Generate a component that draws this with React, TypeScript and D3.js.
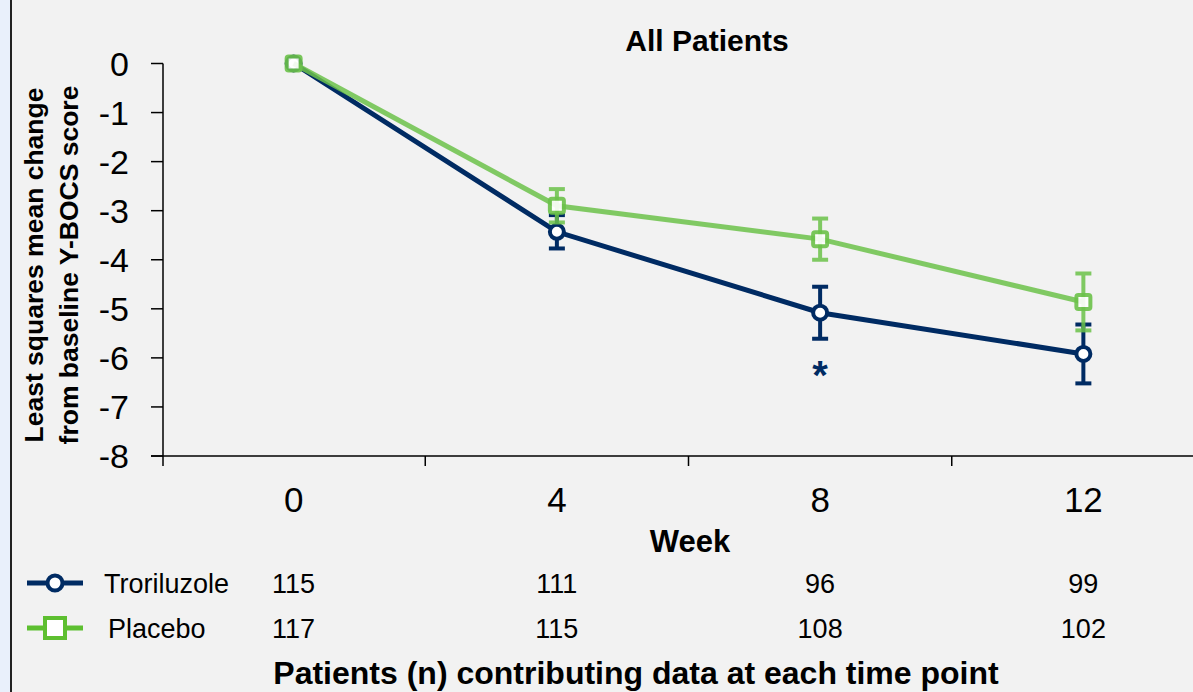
import React, { useEffect, useRef } from 'react';
import * as d3 from 'd3';

const WEEKS = ['0', '4', '8', '12'];
const TRORILUZOLE = [0, -3.43, -5.08, -5.92];
const TRORILUZOLE_ERR = [0, 0.34, 0.53, 0.6];
const PLACEBO = [0, -2.9, -3.58, -4.86];
const PLACEBO_ERR = [0, 0.34, 0.42, 0.58];
const N_TRORILUZOLE = ['115', '111', '96', '99'];
const N_PLACEBO = ['117', '115', '108', '102'];
const Y_TICKS = [0, -1, -2, -3, -4, -5, -6, -7, -8];

const NAVY = '#002b63';
const GREEN = '#6cc24a';
const FONT = 'Liberation Sans, Arial, sans-serif';

export default function App() {
  const ref = useRef<SVGSVGElement>(null);

  useEffect(() => {
    const svg = d3.select(ref.current);
    svg.selectAll('*').remove();

    const W = 1193, H = 692;
    svg.append('rect').attr('width', W).attr('height', H).attr('fill', '#f2f2f2');
    svg.append('rect').attr('width', 10).attr('height', H).attr('fill', '#e9f0fb');
    svg.append('line').attr('x1', 11).attr('x2', 11).attr('y1', 0).attr('y2', H)
      .attr('stroke', '#222').attr('stroke-width', 2);

    const x = d3.scaleBand().domain(WEEKS).range([162, 1215]);
    const y = d3.scaleLinear().domain([0, -8]).range([63.5, 456]);
    const cx = (w: string) => x(w)! + x.bandwidth() / 2;

    // y axis
    const ya = svg.append('g');
    ya.append('line').attr('x1', 163).attr('x2', 163).attr('y1', y(0)).attr('y2', 466)
      .attr('stroke', '#000').attr('stroke-width', 1.5);
    Y_TICKS.forEach(t => {
      ya.append('line').attr('x1', 151).attr('x2', 163).attr('y1', y(t)).attr('y2', y(t))
        .attr('stroke', '#000').attr('stroke-width', 1.5);
      ya.append('text').attr('x', 129).attr('y', y(t)).attr('dy', '0.36em')
        .attr('text-anchor', 'end').attr('font-family', FONT).attr('font-size', 34)
        .attr('fill', '#000').text(t);
    });

    // x axis
    svg.append('line').attr('x1', 151).attr('x2', W).attr('y1', 456).attr('y2', 456)
      .attr('stroke', '#000').attr('stroke-width', 1.5);
    WEEKS.forEach((w, i) => {
      if (i > 0) {
        svg.append('line').attr('x1', x(w)!).attr('x2', x(w)!).attr('y1', 456).attr('y2', 466)
          .attr('stroke', '#000').attr('stroke-width', 1.5);
      }
      svg.append('text').attr('x', cx(w)).attr('y', 512).attr('text-anchor', 'middle')
        .attr('font-family', FONT).attr('font-size', 35).attr('fill', '#000').text(w);
    });

    svg.append('text').attr('x', 690).attr('y', 552).attr('text-anchor', 'middle')
      .attr('font-family', FONT).attr('font-size', 31).attr('font-weight', 'bold').text('Week');

    svg.append('text').attr('x', 707).attr('y', 51).attr('text-anchor', 'middle')
      .attr('font-family', FONT).attr('font-size', 30).attr('font-weight', 'bold').text('All Patients');

    const yt = svg.append('text').attr('transform', 'translate(0,265) rotate(-90)')
      .attr('text-anchor', 'middle').attr('font-family', FONT).attr('font-size', 26.5)
      .attr('font-weight', 'bold').attr('fill', '#000');
    yt.append('tspan').attr('x', 0).attr('y', 43).text('Least squares mean change');
    yt.append('tspan').attr('x', 0).attr('y', 78).text('from baseline Y-BOCS score');

    const line = d3.line<number>().x((_, i) => cx(WEEKS[i])).y(d => y(d));

    const drawErr = (vals: number[], errs: number[], color: string, opacity: number) => {
      vals.forEach((v, i) => {
        if (!errs[i]) return;
        const px = cx(WEEKS[i]);
        const g = svg.append('g').attr('stroke', color).attr('stroke-width', 4).attr('opacity', opacity);
        g.append('line').attr('x1', px).attr('x2', px).attr('y1', y(v - errs[i])).attr('y2', y(v + errs[i]));
        [v - errs[i], v + errs[i]].forEach(e => {
          g.append('line').attr('x1', px - 8).attr('x2', px + 8).attr('y1', y(e)).attr('y2', y(e));
        });
      });
    };

    // troriluzole
    drawErr(TRORILUZOLE, TRORILUZOLE_ERR, NAVY, 1);
    svg.append('path').datum(TRORILUZOLE).attr('d', line).attr('fill', 'none')
      .attr('stroke', NAVY).attr('stroke-width', 5);
    TRORILUZOLE.forEach((v, i) => {
      svg.append('circle').attr('cx', cx(WEEKS[i])).attr('cy', y(v)).attr('r', 7)
        .attr('fill', '#fff').attr('stroke', NAVY).attr('stroke-width', 4);
    });

    // placebo
    drawErr(PLACEBO, PLACEBO_ERR, GREEN, 0.85);
    svg.append('path').datum(PLACEBO).attr('d', line).attr('fill', 'none')
      .attr('stroke', GREEN).attr('stroke-width', 5).attr('opacity', 0.85);
    PLACEBO.forEach((v, i) => {
      svg.append('rect').attr('x', cx(WEEKS[i]) - 7).attr('y', y(v) - 7)
        .attr('width', 14).attr('height', 14).attr('rx', 2)
        .attr('fill', '#fff').attr('stroke', GREEN).attr('stroke-width', 4).attr('opacity', 0.9);
    });

    svg.append('text').attr('x', cx('8')).attr('y', 389).attr('text-anchor', 'middle')
      .attr('font-family', FONT).attr('font-size', 40).attr('font-weight', 'bold')
      .attr('fill', NAVY).text('*');

    // legend + n table
    const rows = [
      { name: 'Troriluzole', color: NAVY, ns: N_TRORILUZOLE, y: 583, tx: 104, shape: 'circle' },
      { name: 'Placebo', color: '#5dbf30', ns: N_PLACEBO, y: 628, tx: 108, shape: 'square' },
    ];
    rows.forEach(r => {
      svg.append('line').attr('x1', 27).attr('x2', 83).attr('y1', r.y).attr('y2', r.y)
        .attr('stroke', r.color).attr('stroke-width', 5);
      if (r.shape === 'circle') {
        svg.append('circle').attr('cx', 55).attr('cy', r.y).attr('r', 7.5)
          .attr('fill', '#fff').attr('stroke', r.color).attr('stroke-width', 4);
      } else {
        svg.append('rect').attr('x', 45).attr('y', r.y - 10).attr('width', 20).attr('height', 20)
          .attr('fill', '#fff').attr('stroke', r.color).attr('stroke-width', 4);
      }
      svg.append('text').attr('x', r.tx).attr('y', r.y).attr('dy', '0.36em')
        .attr('font-family', FONT).attr('font-size', 27).attr('fill', '#000').text(r.name);
      r.ns.forEach((n, i) => {
        svg.append('text').attr('x', cx(WEEKS[i])).attr('y', r.y).attr('dy', '0.36em')
          .attr('text-anchor', 'middle').attr('font-family', FONT).attr('font-size', 27)
          .attr('fill', '#000').text(n);
      });
    });

    svg.append('text').attr('x', 636).attr('y', 684).attr('text-anchor', 'middle')
      .attr('font-family', FONT).attr('font-size', 32).attr('font-weight', 'bold')
      .text('Patients (n) contributing data at each time point');
  }, []);

  return (
    <div style={{ position: 'fixed', left: 0, top: 0 }}>
      <svg ref={ref} width={1193} height={692} style={{ display: 'block' }} />
    </div>
  );
}
